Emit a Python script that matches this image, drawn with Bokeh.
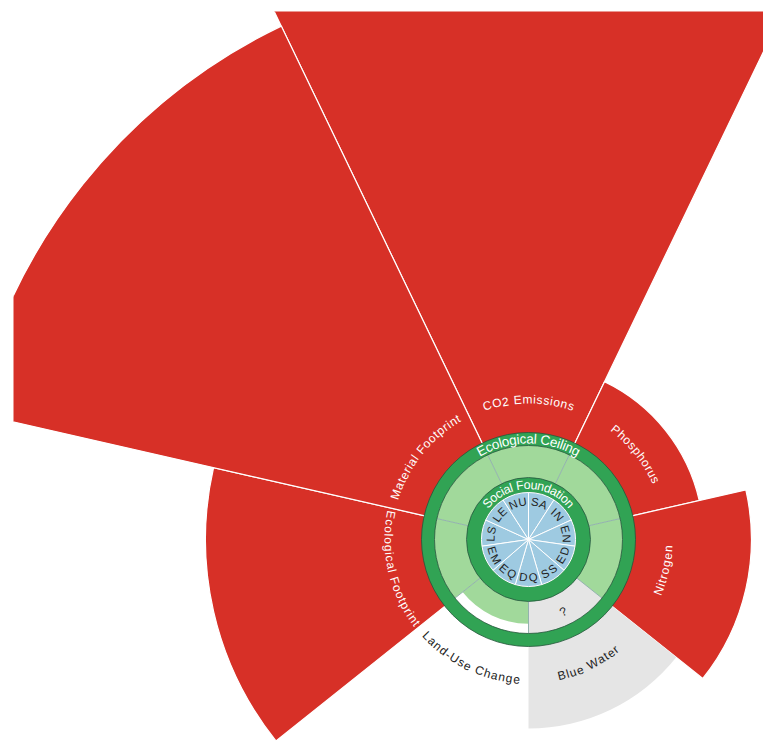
import math
from bokeh.plotting import figure
from bokeh.models import ColumnDataSource, Range1d
from bokeh.core.properties import value, field
from bokeh.embed import file_html
from bokeh.resources import INLINE

# ---------------- data ----------------
eco_labels = ["CO2 Emissions", "Phosphorus", "Nitrogen", "Blue Water",
              "Land-Use Change", "Ecological Footprint", "Material Footprint"]
# value relative to the planetary boundary (1 = at the ceiling); None = no data
eco_values = [14.5, 2.94, 4.18, None, 0.58, 6.78, 13.19]

soc_labels = ["LS", "LE", "NU", "SA", "IN", "EN", "ED", "SS", "DQ", "EQ", "EM"]
# value relative to the social threshold (1 = foundation reached)
soc_values = [1, 1, 1, 1, 1, 1, 1, 1, 1, 1, 1]

# ---------------- styles / geometry ----------------
RED = "#d73027"
LGREEN = "#a1d99b"
DGREEN = "#31a354"
BLUE = "#9ecae1"
GREY = "#e5e5e5"
SEP = "#93b2ae"
RING_EDGE = "#24553a"

R_SOC_IN = 47.0     # social foundation ring inner
R_SOC_OUT = 62.0    # social foundation ring outer
R_ECO_IN = 94.0     # ecological ceiling ring inner
R_ECO_OUT = 107.0   # ecological ceiling ring outer
R_ECO_MID = (R_ECO_IN + R_ECO_OUT) / 2
R_MISSING = 189.0
R_LABEL = 140.0


def eco_r(v):
    return R_SOC_OUT + v * (R_ECO_MID - R_SOC_OUT)


def to_phi(theta_deg):
    """clockwise-from-top degrees -> bokeh radians (anticlockwise from +x)"""
    return math.radians(90.0 - theta_deg)


# Helvetica / Arial advance widths (1/1000 em)
W = {' ': 278, '-': 333, '?': 556, '2': 556,
     'A': 667, 'B': 667, 'C': 722, 'D': 722, 'E': 667, 'F': 611, 'G': 778, 'H': 722,
     'I': 278, 'J': 500, 'K': 667, 'L': 556, 'M': 833, 'N': 722, 'O': 778, 'P': 667,
     'Q': 778, 'R': 722, 'S': 667, 'T': 611, 'U': 722, 'V': 667, 'W': 944, 'X': 667,
     'Y': 667, 'Z': 611,
     'a': 556, 'b': 556, 'c': 500, 'd': 556, 'e': 556, 'f': 278, 'g': 556, 'h': 556,
     'i': 222, 'j': 222, 'k': 500, 'l': 222, 'm': 833, 'n': 556, 'o': 556, 'p': 556,
     'q': 556, 'r': 333, 's': 500, 't': 278, 'u': 556, 'v': 500, 'w': 722, 'x': 500,
     'y': 500, 'z': 500}

chars = dict(x=[], y=[], t=[], a=[], fs=[], c=[])


def curved(text, theta_c, r, size, spacing, color):
    ws = [W.get(ch, 556) * size / 1000.0 for ch in text]
    total = sum(ws) + spacing * (len(text) - 1)
    flip = 90 < (theta_c % 360) < 270
    pos = -total / 2.0
    for ch, w in zip(text, ws):
        s = pos + w / 2.0
        pos += w + spacing
        if ch == " ":
            continue
        th = theta_c + math.degrees(s / r) * (-1 if flip else 1)
        thr = math.radians(th)
        chars["x"].append(r * math.sin(thr))
        chars["y"].append(r * math.cos(thr))
        chars["t"].append(ch)
        chars["a"].append(math.radians(180 - th) if flip else math.radians(-th))
        chars["fs"].append(f"{size}px")
        chars["c"].append(color)


# ---------------- figure ----------------
p = figure(width=763, height=743, output_backend="svg", toolbar_location=None,
           x_range=Range1d(-515, 235), y_range=Range1d(-204, 528),
           min_border_left=13, min_border_top=11, min_border_right=0, min_border_bottom=0)
p.axis.visible = False
p.grid.visible = False
p.outline_line_color = None
p.background_fill_color = "white"

n_eco = len(eco_labels)
step = 360.0 / n_eco
eco_centers = [i * step for i in range(n_eco)]

# outer (overshoot / missing) wedges
red = dict(inner=[], outer=[], start=[], end=[])
grey = dict(inner=[], outer=[], start=[], end=[])
green = dict(inner=[], outer=[], start=[], end=[])
for th, v in zip(eco_centers, eco_values):
    st, en = to_phi(th + step / 2), to_phi(th - step / 2)
    if v is None:
        grey["inner"].append(R_SOC_OUT); grey["outer"].append(R_MISSING)
        grey["start"].append(st); grey["end"].append(en)
        continue
    r = eco_r(v)
    if r > R_ECO_IN:
        red["inner"].append(R_ECO_IN); red["outer"].append(r)
        red["start"].append(st); red["end"].append(en)
    green["inner"].append(R_SOC_OUT); green["outer"].append(min(r, R_ECO_IN))
    green["start"].append(st); green["end"].append(en)

p.annular_wedge(x=0, y=0, inner_radius="inner", outer_radius="outer",
                start_angle="start", end_angle="end", source=ColumnDataSource(red),
                fill_color=RED, line_color="white", line_width=1.2)
p.annular_wedge(x=0, y=0, inner_radius="inner", outer_radius="outer",
                start_angle="start", end_angle="end", source=ColumnDataSource(grey),
                fill_color=GREY, line_color=None)
p.annular_wedge(x=0, y=0, inner_radius="inner", outer_radius="outer",
                start_angle="start", end_angle="end", source=ColumnDataSource(green),
                fill_color=LGREEN, line_color=None)

# separators in the safe zone
seg = dict(x0=[], y0=[], x1=[], y1=[])
for th in eco_centers:
    b = math.radians(th + step / 2)
    seg["x0"].append(R_SOC_OUT * math.sin(b)); seg["y0"].append(R_SOC_OUT * math.cos(b))
    seg["x1"].append(R_ECO_IN * math.sin(b)); seg["y1"].append(R_ECO_IN * math.cos(b))
p.segment(x0="x0", y0="y0", x1="x1", y1="y1", source=ColumnDataSource(seg),
          line_color=SEP, line_width=1)

# rings
p.annulus(x=0, y=0, inner_radius=R_ECO_IN, outer_radius=R_ECO_OUT,
          fill_color=DGREEN, line_color=RING_EDGE, line_width=0.8)
p.annulus(x=0, y=0, inner_radius=R_SOC_IN, outer_radius=R_SOC_OUT,
          fill_color=DGREEN, line_color=RING_EDGE, line_width=0.8)

# social wedges
n_soc = len(soc_labels)
sstep = 360.0 / n_soc
soc_centers = [((j + 8.5) * sstep) % 360 for j in range(n_soc)]
soc = dict(outer=[], start=[], end=[])
for th, v in zip(soc_centers, soc_values):
    soc["outer"].append(R_SOC_IN * min(v, 1.0))
    soc["start"].append(to_phi(th + sstep / 2))
    soc["end"].append(to_phi(th - sstep / 2))
p.wedge(x=0, y=0, radius="outer", start_angle="start", end_angle="end",
        source=ColumnDataSource(soc), fill_color=BLUE, line_color="white", line_width=1)

# ---------------- texts ----------------
curved("Ecological Ceiling", 0, R_ECO_MID, 13.5, 0, "white")
curved("Social Foundation", 0, (R_SOC_IN + R_SOC_OUT) / 2, 12.5, 0, "white")
for th, lab in zip(soc_centers, soc_labels):
    curved(lab, th, 38, 11.5, 1.2, "#222222")
for th, lab, v in zip(eco_centers, eco_labels, eco_values):
    if v is None or eco_r(v) < R_ECO_IN:
        col = "#222222"
    else:
        col = "white"
    curved(lab, th, R_LABEL, 12, 0.8, col)
    if v is None:
        curved("?", th, 80, 12, 0, "#222222")

p.text(x="x", y="y", text="t", angle="a", source=ColumnDataSource(chars),
       text_font=value("Liberation Sans"), text_font_size=field("fs"),
       text_color=field("c"), text_align="center", text_baseline="middle")

open("out.html", "w").write(file_html(p, INLINE))
